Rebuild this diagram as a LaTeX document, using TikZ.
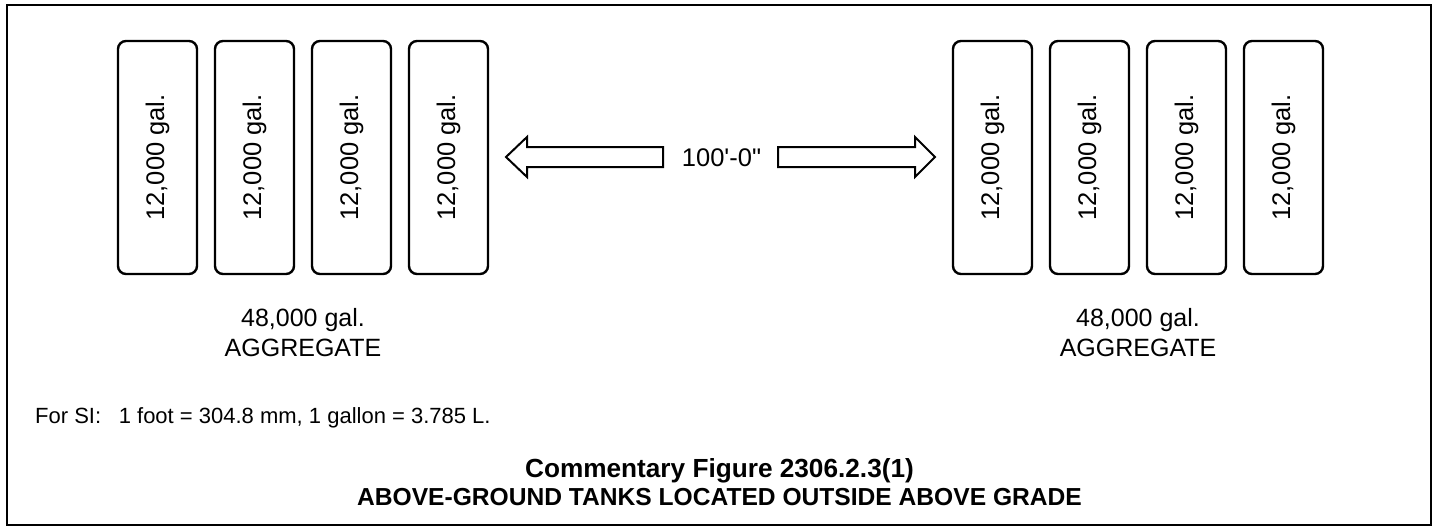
\documentclass[tikz,border=0pt]{standalone}
\usepackage{fontspec}
\setmainfont{Liberation Sans}
\begin{document}
\begin{tikzpicture}[x=1pt,y=-1pt,
  tank/.style={draw, line width=2.4pt, rounded corners=8pt, rotate=90,
    minimum width=233pt, minimum height=79pt, inner sep=0pt,
    font=\fontsize{25.5}{30}\selectfont},
  blockarrow/.style={draw, line width=2pt, line join=miter, fill=white},
  biglabel/.style={inner sep=0pt, align=center, font=\fontsize{25}{30}\selectfont},
  note/.style={inner sep=0pt, anchor=base west, font=\fontsize{22}{26}\selectfont},
  caption/.style={inner sep=0pt, align=center, font=\bfseries\fontsize{24.6}{28}\selectfont}]
\useasboundingbox (0,0) rectangle (1433,527);
% outer frame
\draw[line width=2.2pt] (7,5) rectangle (1431,525);

% two groups of four tanks
\foreach \i in {0,...,3}{
  \node[tank] (L\i) at (157.5+97*\i,157.5) {12,000 gal.};
  \node[tank] (R\i) at (992.5+97*\i,157.5) {12,000 gal.};
}

% separation distance
\node[inner sep=0pt, font=\fontsize{25.5}{30}\selectfont] (dim) at (721.5,158) {100\textquotesingle-0\textquotedbl};
\draw[blockarrow] (663,147) -- (527,147) -- (527,137) -- (506,157) -- (527,177) -- (527,167) -- (663,167) -- cycle;
\draw[blockarrow] (778,147) -- (915,147) -- (915,137) -- (935,157) -- (915,177) -- (915,167) -- (778,167) -- cycle;

% aggregate capacity of each group
\node[biglabel] (aggL) at (303,332.5) {48,000 gal.\\AGGREGATE};
\node[biglabel] (aggR) at (1138,332.5) {48,000 gal.\\AGGREGATE};

% unit conversion note
\node[note] (si) at (35,423) {For SI:\hspace{0.8em}1 foot = 304.8 mm, 1 gallon = 3.785 L.};

% figure caption
\node[caption] (cap) at (719.5,482) {{\fontsize{26.2}{28}\selectfont Commentary Figure 2306.2.3(1)}\\ABOVE-GROUND TANKS LOCATED OUTSIDE ABOVE GRADE};
\end{tikzpicture}
\end{document}
